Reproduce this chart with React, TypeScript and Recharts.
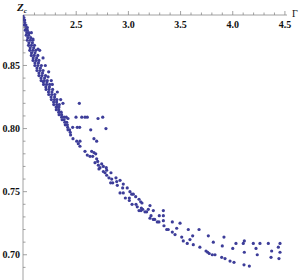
import { Scatter, ScatterChart, XAxis, YAxis } from "recharts"

// [Γ, Zc] pairs
// dense band: lower edge first, then rows further to the right
const bandLower: [number, number][] = [
  [1.99, 0.89], [1.997, 0.886], [2.003, 0.882], [2.012, 0.878], [2.021, 0.874],
  [2.031, 0.87], [2.043, 0.866], [2.055, 0.862], [2.07, 0.858], [2.086, 0.854],
  [2.104, 0.85], [2.124, 0.846], [2.143, 0.842], [2.164, 0.838], [2.187, 0.835],
  [2.211, 0.831], [2.237, 0.827], [2.262, 0.823], [2.285, 0.819], [2.309, 0.815],
  [2.336, 0.811], [2.365, 0.807], [2.395, 0.803], [2.421, 0.799], [2.446, 0.795],
  [2.469, 0.792],
]

const bandLower2: [number, number][] = [
  [1.998, 0.888], [2.007, 0.884], [2.017, 0.88], [2.026, 0.876], [2.036, 0.872],
  [2.047, 0.868], [2.059, 0.864], [2.072, 0.86], [2.088, 0.856], [2.105, 0.852],
  [2.124, 0.848], [2.143, 0.844], [2.163, 0.84], [2.185, 0.837], [2.209, 0.833],
  [2.234, 0.829], [2.259, 0.825], [2.283, 0.821], [2.307, 0.817], [2.332, 0.813],
  [2.36, 0.809], [2.39, 0.805], [2.418, 0.801], [2.443, 0.797],
]

const bandMiddle: [number, number][] = [
  [2.006, 0.886], [2.018, 0.882], [2.031, 0.878], [2.045, 0.874], [2.06, 0.87],
  [2.071, 0.866], [2.084, 0.862], [2.098, 0.858], [2.115, 0.854], [2.133, 0.85],
  [2.153, 0.846], [2.172, 0.842], [2.193, 0.838], [2.216, 0.835], [2.24, 0.831],
  [2.266, 0.827], [2.291, 0.823], [2.314, 0.819], [2.333, 0.815], [2.36, 0.811],
  [2.384, 0.807], [2.415, 0.803], [2.436, 0.799],
]

const bandMiddle2: [number, number][] = [
  [2.032, 0.88], [2.045, 0.876], [2.064, 0.872], [2.08, 0.868], [2.092, 0.864],
  [2.105, 0.86], [2.121, 0.856], [2.138, 0.852], [2.157, 0.848], [2.177, 0.844],
  [2.197, 0.84], [2.219, 0.837], [2.243, 0.833], [2.267, 0.829], [2.293, 0.825],
  [2.312, 0.821], [2.335, 0.817], [2.356, 0.813], [2.384, 0.809], [2.409, 0.805],
]

const bandUpper: [number, number][] = [
  [2.084, 0.87], [2.1, 0.866], [2.113, 0.862], [2.132, 0.858], [2.143, 0.854],
  [2.166, 0.85], [2.182, 0.846], [2.206, 0.842], [2.222, 0.838], [2.245, 0.835],
  [2.274, 0.831], [2.295, 0.827], [2.315, 0.823], [2.338, 0.819],
]

const bandOutliers: [number, number][] = [
  [2.07, 0.876], [2.086, 0.871], [2.134, 0.863], [2.15, 0.862], [2.182, 0.856],
  [2.204, 0.85], [2.236, 0.845], [2.23, 0.841], [2.261, 0.838], [2.271, 0.835],
  [2.319, 0.829], [2.351, 0.823], [2.373, 0.82], [2.325, 0.817], [2.405, 0.809],
  [2.421, 0.808],
]

const kneePoints: [number, number][] = [
  [2.53, 0.82], [2.498, 0.809], [2.553, 0.809], [2.584, 0.809], [2.606, 0.809],
  [2.709, 0.808], [2.754, 0.809], [2.51, 0.801], [2.533, 0.801], [2.466, 0.801],
  [2.639, 0.799], [2.785, 0.8], [2.67, 0.792], [2.505, 0.79], [2.536, 0.79],
  [2.52, 0.788], [2.696, 0.79], [2.536, 0.786], [2.584, 0.782], [2.606, 0.779],
  [2.632, 0.778], [2.648, 0.782], [2.67, 0.781], [2.687, 0.78], [2.658, 0.778],
  [2.696, 0.776], [2.706, 0.774], [2.68, 0.773], [2.744, 0.772], [2.712, 0.771],
  [2.728, 0.769], [2.76, 0.77], [2.718, 0.768], [2.788, 0.769],
]

const midTail: [number, number][] = [
  [2.76, 0.766], [2.792, 0.767], [2.776, 0.765], [2.833, 0.765], [2.792, 0.763],
  [2.814, 0.761], [2.881, 0.761], [2.84, 0.76], [2.83, 0.757], [2.888, 0.758],
  [2.85, 0.757], [2.894, 0.755], [2.92, 0.759], [2.951, 0.756], [2.945, 0.753],
  [2.989, 0.753], [2.92, 0.749], [2.951, 0.749], [3.015, 0.75], [3.032, 0.748],
  [3.047, 0.748], [3.07, 0.746], [3.009, 0.745], [2.971, 0.745], [3.009, 0.743],
  [3.102, 0.744], [3.118, 0.742], [3.035, 0.74], [3.073, 0.74], [3.13, 0.741],
  [3.085, 0.738], [3.207, 0.739], [3.124, 0.737], [3.137, 0.736], [3.102, 0.735],
  [3.121, 0.735], [3.191, 0.736], [3.159, 0.734], [3.175, 0.734], [3.239, 0.735],
  [3.335, 0.735], [3.217, 0.731], [3.296, 0.731], [3.335, 0.731], [3.207, 0.729],
  [3.239, 0.728], [3.252, 0.728], [3.277, 0.726], [3.293, 0.726], [3.335, 0.727],
  [3.421, 0.726], [3.495, 0.725], [3.341, 0.723], [3.367, 0.72], [3.382, 0.72],
  [3.421, 0.718], [3.447, 0.716], [3.463, 0.721], [3.574, 0.72], [3.677, 0.72],
  [3.511, 0.714], [3.616, 0.715], [3.59, 0.712], [3.766, 0.715],
]

const lowerTail: [number, number][] = [
  [3.526, 0.711], [3.564, 0.709], [3.622, 0.708], [3.685, 0.706], [3.744, 0.703],
  [3.76, 0.702], [3.775, 0.701], [3.804, 0.7], [3.83, 0.7], [3.814, 0.71],
  [3.9, 0.707], [3.916, 0.714], [3.894, 0.698], [3.926, 0.697], [3.974, 0.695],
  [4.012, 0.694], [4.031, 0.709], [4.0, 0.705], [4.111, 0.711], [4.101, 0.709],
  [4.197, 0.709], [4.261, 0.709], [4.341, 0.709], [4.453, 0.709], [4.437, 0.706],
  [4.223, 0.705], [4.111, 0.702], [4.373, 0.703], [4.453, 0.702], [4.235, 0.7],
  [4.367, 0.698], [4.443, 0.697], [4.108, 0.692], [4.159, 0.691],
]

const xTicks = [
  2.1, 2.2, 2.3, 2.4, 2.5, 2.6, 2.7, 2.8, 2.9, 3.0, 3.1, 3.2, 3.3, 3.4, 3.5,
  3.6, 3.7, 3.8, 3.9, 4.0, 4.1, 4.2, 4.3, 4.4, 4.5,
]
const xLabels = [2.5, 3.0, 3.5, 4.0, 4.5]
const yTicks = [
  0.69, 0.7, 0.71, 0.72, 0.73, 0.74, 0.75, 0.76, 0.77, 0.78, 0.79, 0.8, 0.81,
  0.82, 0.83, 0.84, 0.85, 0.86, 0.87, 0.88,
]
const yLabels = [0.7, 0.75, 0.8, 0.85]

const points = [
  ...bandLower,
  ...bandLower2,
  ...bandMiddle,
  ...bandMiddle2,
  ...bandUpper,
  ...bandOutliers,
  ...kneePoints,
  ...midTail,
  ...lowerTail,
].map(([g, z]) => ({ g, z }))

const W = 300
const H = 280
const TOP = 15
const LEFT = 23
const AXIS = "#8a8a8a"
const FONT = "Liberation Serif"
const DOT = "#3d3d99"

const isMajor = (v: number, list: number[]) =>
  list.some((l) => Math.abs(l - v) < 1e-6)

function XTick(props: any) {
  const { x, payload } = props
  const v: number = payload.value
  const major = isMajor(v, xLabels)
  return (
    <g>
      <line x1={x} x2={x} y1={TOP} y2={TOP - (major ? 4 : 2.5)} stroke={AXIS} strokeWidth={0.8} />
      {major && (
        <text x={x} y={28} textAnchor="middle" fontFamily={FONT} fontSize={10} fontWeight="bold" fill="#111">
          {v.toFixed(1)}
        </text>
      )}
    </g>
  )
}

function YTick(props: any) {
  const { y, payload } = props
  const v: number = payload.value
  const major = isMajor(v, yLabels)
  return (
    <g>
      <line x1={LEFT} x2={LEFT + (major ? 4 : 2.5)} y1={y} y2={y} stroke={AXIS} strokeWidth={0.8} />
      {major && (
        <text x={20} y={y + 3.5} textAnchor="end" fontFamily={FONT} fontSize={10} fontWeight="bold" fill="#111">
          {v.toFixed(2)}
        </text>
      )}
    </g>
  )
}

function Dot(props: any) {
  return <circle cx={props.cx} cy={props.cy} r={1.6} fill={DOT} />
}

export default function App() {
  return (
    <div style={{ position: "absolute", left: 0, top: 0, width: W, height: H, background: "#fff" }}>
      <ScatterChart width={W} height={H} margin={{ top: 0, right: 13, bottom: 0, left: 0 }}>
        <XAxis
          xAxisId={0}
          type="number"
          dataKey="g"
          orientation="top"
          height={TOP}
          domain={[1.99, 4.52]}
          ticks={xTicks}
          interval={0}
          tickLine={false}
          axisLine={{ stroke: AXIS, strokeWidth: 0.8 }}
          tick={<XTick />}
          allowDataOverflow
        />
        <YAxis
          yAxisId={0}
          type="number"
          dataKey="z"
          width={LEFT}
          domain={[0.68, 0.89]}
          ticks={yTicks}
          interval={0}
          tickLine={false}
          axisLine={{ stroke: AXIS, strokeWidth: 0.8 }}
          tick={<YTick />}
          allowDataOverflow
        />
        <Scatter data={points} shape={<Dot />} isAnimationActive={false} />
      </ScatterChart>
      <svg width={W} height={H} style={{ position: "absolute", left: 0, top: 0, pointerEvents: "none" }}>
        <text x={17} y={11} fontFamily={FONT} fontSize={11} fontStyle="italic" fontWeight="bold" fill="#111">
          Z
          <tspan fontSize={7} dy={2}>c</tspan>
        </text>
        <text x={292} y={17} fontFamily={FONT} fontSize={10} fill="#111">
          Γ
        </text>
      </svg>
    </div>
  )
}
